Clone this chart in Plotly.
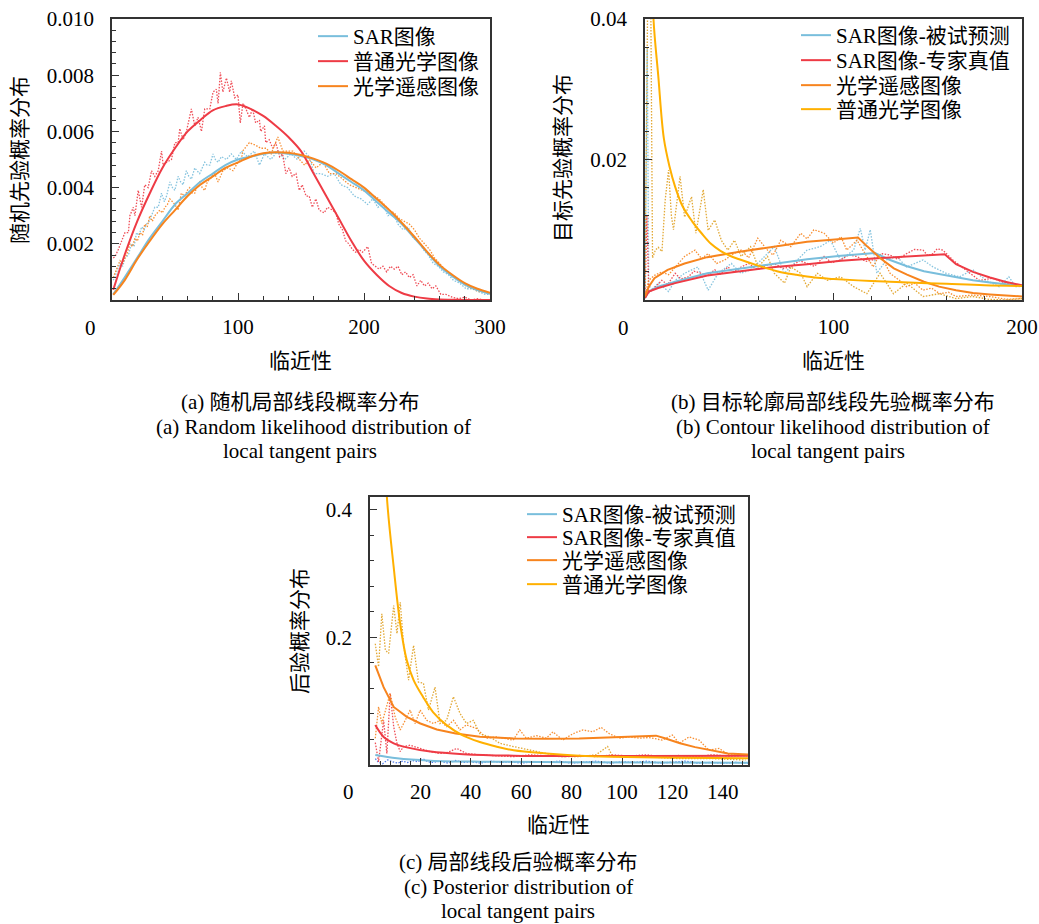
import plotly.graph_objects as go

# ---------------- colours ----------------
C_BLUE = "#79BEDC"
C_RED = "#EE3B45"
C_ORANGE = "#F7841E"
C_YELLOW = "#FFB000"
C_DBLUE = "#3F6FE8"
C_GOLD = "#E0A020"

FONT = "Liberation Serif, 'Noto Sans CJK SC', serif"

# ---------------- panel (a) data ----------------
xa_fit = [1, 10, 20, 30, 40, 50, 60, 70, 80, 90, 100, 110, 120, 130, 140, 150,
          160, 170, 180, 190, 200, 210, 220, 230, 240, 250, 260, 270, 280, 290, 300]
a_sar_fit = [0.0002, 0.0008, 0.0015, 0.0022, 0.0028, 0.0034, 0.0038, 0.0042, 0.0045, 0.0048,
             0.0050, 0.0051, 0.0052, 0.00525, 0.0052, 0.00512, 0.0050, 0.0048, 0.0045, 0.0042,
             0.0039, 0.0035, 0.0031, 0.0027, 0.0022, 0.0017, 0.0012, 0.00085, 0.00055, 0.00035, 0.00022]
a_opt_fit = [0.00036, 0.0016, 0.0028, 0.0038, 0.0047, 0.0054, 0.0060, 0.0064, 0.00675, 0.0069,
             0.00696, 0.0068, 0.00655, 0.0062, 0.0058, 0.0053, 0.0045, 0.0037, 0.0029, 0.0021,
             0.0014, 0.0009, 0.0005, 0.00025, 0.00012, 0.00005, 0.00002, 0.00001, 0.0, 0.0, 0.0]
a_rs_fit = [0.00018, 0.0007, 0.00145, 0.0021, 0.0027, 0.0032, 0.0037, 0.0041, 0.0044, 0.0047,
            0.0049, 0.0051, 0.00522, 0.00526, 0.00524, 0.00516, 0.00503, 0.00485, 0.0046, 0.0043,
            0.0040, 0.0036, 0.0032, 0.00275, 0.00225, 0.00172, 0.00125, 0.0009, 0.0006, 0.0004, 0.00026]

# raw (dotted) histograms of panel (a), as (proximity, probability) samples
a_opt_raw = [(1, 0.0015), (2.4, 0.00154), (5, 0.0018), (7.6, 0.0021), (10.3, 0.0024), (13, 0.0024),
             (14.2, 0.0030), (16.9, 0.0033), (18.2, 0.0030), (20.8, 0.0039), (23.5, 0.0033),
             (26, 0.0041), (28.7, 0.0040), (31.4, 0.0046), (34, 0.0044), (36.7, 0.0046),
             (39.3, 0.0053), (40.6, 0.0048), (43.3, 0.0049), (47.2, 0.0050), (49.9, 0.0056),
             (52.5, 0.0056), (53.8, 0.0061), (56.4, 0.0057), (59.1, 0.0060), (63, 0.0068),
             (65.7, 0.0062), (68.3, 0.0065), (71, 0.0060), (73.6, 0.0068), (77.6, 0.0068),
             (80.2, 0.0074), (82.8, 0.0075), (84.2, 0.0070), (86, 0.0081), (88, 0.0074),
             (90.8, 0.0079), (93.4, 0.0074), (94.7, 0.0078), (97.4, 0.0072), (100, 0.0073),
             (101.8, 0.0063), (104, 0.0070), (106.3, 0.0068), (109, 0.0065), (111.6, 0.0068),
             (114, 0.0063), (117, 0.0064), (118, 0.0060), (121, 0.0062), (122, 0.0056),
             (124.8, 0.0057), (127.5, 0.0054), (130, 0.0056), (133, 0.0051), (135.4, 0.0052),
             (138, 0.0045), (140.6, 0.0047), (143, 0.0044), (146, 0.0045), (148.6, 0.0039),
             (151, 0.0041), (154, 0.0037), (156.5, 0.0037), (159, 0.0033), (161.8, 0.0036),
             (164.4, 0.0032), (168.4, 0.0031), (171, 0.0033), (175, 0.0032), (177.6, 0.0031),
             (180, 0.0027), (182.9, 0.0025), (185.5, 0.0021), (188, 0.0020), (190.8, 0.0018),
             (193.4, 0.0017), (196, 0.0018), (198.7, 0.0017), (201, 0.0018), (203, 0.0019),
             (206, 0.0013), (209, 0.0012), (212, 0.0011), (215, 0.0012), (218, 0.0010),
             (221, 0.0012), (224, 0.0011), (227, 0.0012), (230, 0.0009), (233, 0.0010),
             (236, 0.0008), (239, 0.0009), (242, 0.0005), (245, 0.0007), (248, 0.0005),
             (251, 0.0006), (254, 0.0004), (257, 0.0005), (261, 0.0002), (265, 0.0002),
             (270, 0.0001), (275, 0.00005), (280, 0.0001), (285, 0.0), (290, 0.00005),
             (295, 0.0), (300, 0.0)]
a_sar_raw = [(1, 0.0007), (2.4, 0.00083), (4.5, 0.0011), (6.3, 0.0013), (8.5, 0.0012), (10.3, 0.0015),
             (13, 0.0016), (15.5, 0.0020), (17.5, 0.0019), (19.5, 0.0024), (21.5, 0.0023),
             (23.5, 0.0026), (25.5, 0.0025), (27.4, 0.0027), (29.5, 0.0028), (31.4, 0.0030),
             (34, 0.0033), (36.7, 0.0033), (39.3, 0.0038), (41.5, 0.0035), (43.3, 0.0037),
             (45.9, 0.0042), (48, 0.0040), (49.9, 0.0039), (52.5, 0.0044), (54.5, 0.0042),
             (56.4, 0.0041), (59, 0.0046), (61, 0.0044), (63, 0.0043), (65.7, 0.0047),
             (67.5, 0.0046), (69.6, 0.0045), (73.6, 0.0049), (75.5, 0.0048), (77.6, 0.0048),
             (80.2, 0.0052), (82, 0.0050), (84.2, 0.0049), (86.8, 0.0051), (90.8, 0.0050),
             (94.7, 0.0052), (98.7, 0.0050), (102.7, 0.0053), (107.7, 0.0051), (113, 0.0053),
             (117, 0.0048), (121, 0.0052), (126, 0.0050), (131.6, 0.0053), (136.9, 0.0050),
             (142, 0.0052), (147.2, 0.0050), (152.5, 0.0053), (156.5, 0.0051), (160.5, 0.0045),
             (165.8, 0.0045), (171, 0.0044), (176.4, 0.0045), (181.7, 0.0041), (187, 0.0040),
             (192.3, 0.0037), (197.6, 0.0036), (202.8, 0.0034), (207, 0.0036), (211, 0.0033),
             (215, 0.0034), (219, 0.0030), (223, 0.0031), (227, 0.0027), (231, 0.0025),
             (235, 0.0026), (239, 0.0022), (243, 0.0021), (247, 0.0018), (251, 0.0016),
             (255, 0.0013), (259, 0.0012), (263, 0.0010), (267, 0.0009), (271, 0.0007),
             (276, 0.0006), (281, 0.0004), (286, 0.0004), (291, 0.0003), (296, 0.0002),
             (300, 0.0002)]
a_rs_raw = [(1, 0.0008), (2.4, 0.00095), (4.5, 0.0012), (6.3, 0.0014), (8.5, 0.0013), (10.3, 0.0015),
            (12.3, 0.0017), (14.2, 0.0020), (16.2, 0.0019), (18.2, 0.0022), (20.2, 0.0021),
            (22.2, 0.0024), (24.2, 0.0023), (26, 0.0027), (28, 0.0026), (30, 0.0030), (32, 0.0028),
            (34, 0.0030), (36, 0.0031), (38, 0.0032), (40, 0.0031), (42, 0.0033), (44, 0.0034),
            (45.9, 0.0036), (47.9, 0.0035), (49.9, 0.0034), (52.5, 0.0032), (55, 0.0038),
            (57.8, 0.0037), (59.8, 0.0039), (61.7, 0.0040), (63.7, 0.0038), (65.7, 0.0038),
            (67.7, 0.0041), (69.6, 0.0042), (71.6, 0.0040), (73.6, 0.0039), (75.6, 0.0042),
            (77.6, 0.0043), (79.5, 0.0044), (81.5, 0.0045), (84.2, 0.0042), (86, 0.0044),
            (88, 0.0046), (92, 0.0047), (96, 0.0046), (100, 0.0049), (102.7, 0.0050),
            (103.7, 0.0053), (109, 0.0056), (114.3, 0.0055), (118, 0.0054), (122.4, 0.0054),
            (126.3, 0.0052), (131.6, 0.0058), (135.6, 0.0053), (139.5, 0.0053), (143.5, 0.0053),
            (148.8, 0.0050), (152.8, 0.0048), (156.7, 0.0050), (162, 0.0047), (167.3, 0.0049),
            (172.6, 0.0045), (177.8, 0.0045), (183, 0.0043), (188.4, 0.0041), (193.7, 0.0040),
            (199, 0.0039), (204.3, 0.0038), (208, 0.0037), (212, 0.0036), (216, 0.0034),
            (220, 0.0032), (224, 0.0031), (228, 0.0029), (232, 0.0028), (236, 0.0027),
            (240, 0.0025), (244, 0.0022), (248, 0.0020), (252, 0.0018), (256, 0.0015),
            (260, 0.0013), (264, 0.0011), (268, 0.0009), (272, 0.0008), (276, 0.0007),
            (281, 0.0005), (286, 0.0004), (291, 0.0003), (296, 0.0003), (300, 0.0002)]

# ---------------- panel (b) data ----------------
xb_sar_fit = [0, 2, 7, 16, 33, 51, 69, 86, 104, 122, 130, 139, 148, 156, 165, 174, 183, 200]
b_sar_fit = [0.0003, 0.0012, 0.0019, 0.0026, 0.0038, 0.0045, 0.0052, 0.0058, 0.0063, 0.0067,
             0.0057, 0.0048, 0.0041, 0.0037, 0.0032, 0.0028, 0.0025, 0.0020]
xb_exp_fit = [0, 2, 7, 16, 33, 51, 69, 86, 104, 121, 139, 159, 165, 174, 183, 191, 200]
b_exp_fit = [0.0003, 0.0012, 0.0017, 0.0024, 0.0035, 0.0041, 0.0047, 0.0051, 0.0056, 0.0059,
             0.0062, 0.0065, 0.0051, 0.0040, 0.0032, 0.0026, 0.0021]
xb_rs_fit = [0, 2, 5, 12, 21, 33, 51, 69, 86, 104, 113, 118, 125, 132, 139, 148, 156, 165, 174, 183, 200]
b_rs_fit = [0.0005, 0.0019, 0.0031, 0.0043, 0.0052, 0.0061, 0.0069, 0.0076, 0.0083, 0.0087,
            0.0089, 0.0076, 0.0059, 0.0045, 0.0036, 0.0026, 0.0019, 0.0014, 0.0010, 0.0008, 0.0005]
xb_opt_fit = [2, 3, 4.5, 7, 10, 13, 16, 20, 25, 30, 35, 40, 45, 50, 60, 70, 80, 90, 100,
              120, 140, 160, 180, 200]
b_opt_fit = [0.08, 0.055, 0.040, 0.032, 0.023, 0.019, 0.0161, 0.0133, 0.0112, 0.0095, 0.0080,
             0.0070, 0.0063, 0.0058, 0.0049, 0.0041, 0.0036, 0.0032, 0.0030, 0.0027, 0.0025,
             0.0023, 0.0021, 0.0020]

xb_sar_raw = [0, 1.2, 2, 4, 7.2, 10, 12.5, 16, 21, 28, 33.5, 38.8, 45.8, 51, 56, 61.6, 68.6, 73.9,
              80.9, 86, 93, 98.4, 103.7, 110.7, 114.2, 116.8, 119.5, 123, 128, 133.5, 138.8, 147.5,
              152.8, 159.8, 166.8, 173.9, 180.9, 187.9, 193, 196.7, 200]
b_sar_raw = [0.0005, 0.036, 0.002, 0.0016, 0.0024, 0.0018, 0.0012, 0.0028, 0.0038, 0.0047, 0.0014,
             0.0038, 0.0052, 0.0038, 0.0043, 0.0057, 0.0076, 0.0038, 0.0057, 0.0071, 0.0076, 0.0085,
             0.0057, 0.0071, 0.0102, 0.0071, 0.0100, 0.0038, 0.0057, 0.0062, 0.0047, 0.0057, 0.0047,
             0.0038, 0.0033, 0.0043, 0.0028, 0.0019, 0.0033, 0.0019, 0.0020]
xb_exp_raw = [0, 1, 2, 3.7, 6, 8.9, 12, 16, 19, 23, 26, 30, 33, 37, 40, 44, 47, 51, 55, 59.8, 64,
              68.6, 73, 77.4, 82, 86, 90, 95, 99, 103.7, 108, 112.5, 117, 121, 126, 130, 134,
              138.8, 143, 147.5, 150, 152.8, 155, 158, 163.3, 170, 177.4, 184.4, 191.4, 198.4, 200]
b_exp_raw = [0.0003, 0.012, 0.001, 0.0014, 0.0020, 0.0028, 0.0022, 0.0038, 0.0030, 0.0033, 0.0041,
             0.0038, 0.0034, 0.0043, 0.0037, 0.0047, 0.0040, 0.0047, 0.0052, 0.0043, 0.0049,
             0.0052, 0.0045, 0.0047, 0.0056, 0.0052, 0.0048, 0.0062, 0.0053, 0.0057, 0.0064,
             0.0062, 0.0055, 0.0057, 0.0066, 0.0064, 0.0058, 0.0066, 0.0072, 0.0071, 0.0063,
             0.0066, 0.0073, 0.0071, 0.0057, 0.0043, 0.0028, 0.0031, 0.0024, 0.0019, 0.0021]
xb_rs_raw = [0, 1.9, 5, 8.9, 12.5, 16, 21, 26.5, 30, 33.5, 38, 42.3, 47, 51, 55, 59.8, 65, 68,
             72, 77.4, 82.6, 86, 89.6, 95, 100, 104, 107, 112.5, 117.7, 121, 124.7, 130, 135,
             138.8, 143, 147.5, 152, 156.3, 161, 165, 174, 182.6, 191.4, 200]
b_rs_raw = [0.0005, 0.0028, 0.0035, 0.0040, 0.0036, 0.0047, 0.0062, 0.0071, 0.0059, 0.0066, 0.0052,
            0.0057, 0.0066, 0.0071, 0.0060, 0.0088, 0.0071, 0.0064, 0.0085, 0.0076, 0.0095, 0.0087,
            0.0100, 0.0095, 0.0081, 0.0090, 0.0071, 0.0085, 0.0062, 0.0047, 0.0066, 0.0038, 0.0028,
            0.0019, 0.0024, 0.0014, 0.0017, 0.0009, 0.0011, 0.0005, 0.0007, 0.0005, 0.0001, 0.0002]
xb_opt_raw = [0, 1.5, 3, 4, 5.5, 7, 9, 10.7, 12.5, 14, 15.1, 18.6, 21, 24.7, 27, 30.9, 33.5, 37,
              40.5, 44, 47.5, 51, 56, 60, 65, 68.6, 74, 77.4, 82.6, 86, 91.4, 96.7, 103.7, 110.7,
              117.7, 124.7, 131.8, 138.8, 147.5, 156.3, 165, 173.9, 182.6, 191.4, 200]
b_opt_raw = [0.002, 0.045, 0.045, 0.006, 0.0071, 0.0075, 0.0069, 0.0142, 0.0185, 0.0120, 0.0100,
             0.0176, 0.0118, 0.0147, 0.0095, 0.0157, 0.0099, 0.0114, 0.0085, 0.0071, 0.0085,
             0.0062, 0.0076, 0.0047, 0.0062, 0.0038, 0.0024, 0.0047, 0.0038, 0.0019, 0.0038,
             0.0028, 0.0033, 0.0019, 0.0009, 0.0038, 0.0009, 0.0024, 0.0005, 0.0009, 0.0002,
             0.0005, 0.0001, 0.0000, 0.0002]

# ---------------- panel (c) data ----------------
xc_sar_fit = [2.1, 10.7, 24, 43.6, 80, 150]
c_sar_fit = [0.0156, 0.0104, 0.0068, 0.0052, 0.0045, 0.0036]
xc_exp_fit = [2.1, 5.4, 9.4, 14.6, 24, 37, 57, 83, 109, 150]
c_exp_fit = [0.0625, 0.044, 0.034, 0.0276, 0.021, 0.017, 0.0146, 0.014, 0.014, 0.0146]
xc_rs_fit = [2.1, 5.4, 9.4, 14.6, 20, 26.5, 34, 43.6, 57, 70, 83, 96, 109.5, 113.5, 117, 123,
             129, 136, 142, 150]
c_rs_fit = [0.156, 0.122, 0.091, 0.0755, 0.065, 0.0557, 0.0495, 0.0443, 0.0417, 0.041, 0.0415,
            0.043, 0.045, 0.046, 0.042, 0.034, 0.028, 0.022, 0.018, 0.0165]
xc_opt_fit = [3, 5, 6.7, 9.4, 12, 14.6, 17.3, 21, 25, 30.4, 37, 43.6, 50, 57, 70, 83, 96, 123, 150]
c_opt_fit = [0.9, 0.58, 0.42, 0.31, 0.221, 0.164, 0.133, 0.107, 0.083, 0.0625, 0.046, 0.036,
             0.029, 0.023, 0.018, 0.0146, 0.013, 0.0115, 0.0104]

xc_sar_raw = [2.1, 3.4, 5, 7, 9, 11, 13, 15, 17, 19, 21, 23, 25, 28, 31, 34, 37, 40, 44, 48, 52,
              56, 60, 65, 70, 75, 80, 85, 90, 95, 100, 105, 110, 115, 120, 125, 130, 135, 140, 145, 150]
c_sar_raw = [0.010, 0.004, 0.002, 0.008, 0.005, 0.003, 0.006, 0.004, 0.007, 0.005, 0.010, 0.005,
             0.004, 0.006, 0.003, 0.007, 0.004, 0.005, 0.003, 0.006, 0.004, 0.005, 0.003, 0.005,
             0.004, 0.006, 0.003, 0.004, 0.006, 0.003, 0.005, 0.004, 0.006, 0.003, 0.004, 0.006,
             0.003, 0.004, 0.003, 0.004, 0.003]
xc_exp_raw = [2.1, 3.4, 5.4, 6.7, 8, 9.4, 10.7, 12, 13.3, 15.9, 19.9, 23.8, 27.8, 31, 34.4, 38.3,
              43.6, 50.2, 56.8, 63.4, 70, 76.5, 83.1, 89.7, 96.3, 102.9, 109.5, 116, 122.7, 129.2,
              135.8, 142.4, 150]
c_exp_raw = [0.035, 0.005, 0.070, 0.018, 0.112, 0.060, 0.034, 0.021, 0.029, 0.031, 0.026, 0.021,
             0.018, 0.020, 0.026, 0.018, 0.016, 0.015, 0.013, 0.016, 0.014, 0.013, 0.015, 0.013,
             0.016, 0.014, 0.016, 0.013, 0.015, 0.013, 0.016, 0.014, 0.015]
xc_rs_raw = [2.1, 3.4, 4.7, 6.7, 8, 10, 12, 14, 15.9, 17.9, 19.9, 22.5, 25.2, 27.8, 30.4, 33.1,
             35.7, 38.3, 42.3, 46.2, 50.2, 56.8, 59.4, 62, 66, 70, 72.6, 76.5, 80.5, 84.5, 88.4,
             91.7, 95, 98.9, 102.9, 106.9, 110.8, 116, 120, 122.7, 126.6, 130.6, 134.5, 138.5,
             142.4, 150]
c_rs_raw = [0.042, 0.091, 0.065, 0.096, 0.112, 0.075, 0.055, 0.070, 0.086, 0.065, 0.086, 0.070,
            0.065, 0.070, 0.060, 0.070, 0.055, 0.063, 0.057, 0.042, 0.044, 0.039, 0.055, 0.042,
            0.046, 0.042, 0.052, 0.039, 0.049, 0.055, 0.052, 0.059, 0.049, 0.042, 0.044, 0.042,
            0.043, 0.039, 0.047, 0.034, 0.044, 0.039, 0.023, 0.026, 0.016, 0.016]
xc_opt_raw = [2.1, 3.4, 4.7, 6.1, 7.4, 9.4, 10.7, 12, 13.3, 15.3, 17.3, 19.2, 21.2, 23.2, 25.8,
              27.8, 30.4, 33.1, 35.7, 38.3, 41, 43.6, 47.6, 51.5, 56.8, 63.4, 70, 76.5, 83.1, 89.7,
              94.3, 96.3, 109.5, 122.7, 135.8, 149]
c_opt_raw = [0.19, 0.154, 0.237, 0.180, 0.175, 0.250, 0.206, 0.255, 0.190, 0.133, 0.1875, 0.130,
             0.128, 0.086, 0.122, 0.065, 0.070, 0.107, 0.081, 0.065, 0.070, 0.049, 0.044, 0.034,
             0.029, 0.023, 0.018, 0.013, 0.013, 0.016, 0.029, 0.013, 0.013, 0.010, 0.010, 0.0078]

# ---------------- tick labels / texts ----------------
a_xticks = [100, 200, 300]
a_yticks = [0.002, 0.004, 0.006, 0.008, 0.010]
a_yticktext = ["0.002", "0.004", "0.006", "0.008", "0.010"]
b_xticks = [100, 200]
b_yticks = [0.02, 0.04]
b_yticktext = ["0.02", "0.04"]
c_xticks = [20, 40, 60, 80, 100, 120, 140]
c_yticks = [0.2, 0.4]
c_yticktext = ["0.2", "0.4"]

W, H = 1039, 924


def px(x, y):
    return x / W, 1 - y / H


fig = go.Figure()
legends = {}
leg_count = [0]


def raw(x, y, color, xa, ya, opacity=0.9):
    fig.add_trace(go.Scatter(x=x, y=y, mode="lines", xaxis=xa, yaxis=ya, showlegend=False,
                             line=dict(color=color, width=1.3, dash="1.5px,1.5px"),
                             opacity=opacity, hoverinfo="skip"))


def raw_pts(pts, color, xa, ya):
    raw([p[0] for p in pts], [p[1] for p in pts], color, xa, ya)


def fit(x, y, color, name, xa, ya, leg_x, leg_y, shape="linear"):
    # one legend per entry so each entry sits exactly where it is in the reference
    leg_count[0] += 1
    key = "legend" if leg_count[0] == 1 else "legend%d" % leg_count[0]
    legends[key] = dict(x=leg_x / W, y=1 - (leg_y - 21) / H, xanchor="left", yanchor="top",
                        bgcolor="rgba(0,0,0,0)", itemwidth=30,
                        font=dict(size=21, family=FONT, color="black"))
    fig.add_trace(go.Scatter(x=x, y=y, mode="lines", xaxis=xa, yaxis=ya, name=name,
                             legend=key, line=dict(color=color, width=2, shape=shape)))


# legend box left positions (px)
LA, LB, LC = 313, 796, 522

# panel a
raw_pts(a_sar_raw, C_BLUE, "x", "y")
raw_pts(a_opt_raw, C_RED, "x", "y")
raw_pts(a_rs_raw, C_ORANGE, "x", "y")
fit(xa_fit, a_sar_fit, C_BLUE, "SAR图像", "x", "y", LA, 37, "spline")
fit(xa_fit, a_opt_fit, C_RED, "普通光学图像", "x", "y", LA, 62, "spline")
fit(xa_fit, a_rs_fit, C_ORANGE, "光学遥感图像", "x", "y", LA, 87, "spline")

# panel b
raw(xb_sar_raw, b_sar_raw, C_BLUE, "x2", "y2")
raw(xb_exp_raw, b_exp_raw, C_RED, "x2", "y2")
raw(xb_rs_raw, b_rs_raw, C_ORANGE, "x2", "y2")
raw(xb_opt_raw, b_opt_raw, C_GOLD, "x2", "y2")
fit(xb_sar_fit, b_sar_fit, C_BLUE, "SAR图像-被试预测", "x2", "y2", LB, 36)
fit(xb_exp_fit, b_exp_fit, C_RED, "SAR图像-专家真值", "x2", "y2", LB, 61)
fit(xb_rs_fit, b_rs_fit, C_ORANGE, "光学遥感图像", "x2", "y2", LB, 86)
fit(xb_opt_fit, b_opt_fit, C_YELLOW, "普通光学图像", "x2", "y2", LB, 110, "spline")

# panel c
raw(xc_sar_raw, c_sar_raw, C_DBLUE, "x3", "y3")
raw(xc_exp_raw, c_exp_raw, C_RED, "x3", "y3")
raw(xc_rs_raw, c_rs_raw, C_ORANGE, "x3", "y3")
raw(xc_opt_raw, c_opt_raw, C_GOLD, "x3", "y3")
fit(xc_sar_fit, c_sar_fit, C_BLUE, "SAR图像-被试预测", "x3", "y3", LC, 515, "spline")
fit(xc_exp_fit, c_exp_fit, C_RED, "SAR图像-专家真值", "x3", "y3", LC, 538, "spline")
fit(xc_rs_fit, c_rs_fit, C_ORANGE, "光学遥感图像", "x3", "y3", LC, 561)
fit(xc_opt_fit, c_opt_fit, C_YELLOW, "普通光学图像", "x3", "y3", LC, 585, "spline")

AX = "#333333"


def axis(domain, rng, tickvals, ticktext, minor_dtick, anchor, standoff):
    return dict(domain=domain, range=rng, tickmode="array", tickvals=tickvals, ticktext=ticktext,
                ticks="inside", ticklen=7, tickwidth=1, tickcolor=AX,
                showline=True, linecolor=AX, linewidth=1.5, mirror=True,
                showgrid=False, zeroline=False, anchor=anchor, automargin=False,
                tickfont=dict(size=21, color="black", family=FONT),
                ticklabelstandoff=standoff,
                minor=dict(tickmode="linear", tick0=0, dtick=minor_dtick, ticks="inside",
                           ticklen=4, tickwidth=1, tickcolor=AX, showgrid=False))


xa_dom = [112 / W, 490 / W]
xb_dom = [645 / W, 1022 / W]
xc_dom = [370 / W, 748 / W]
yab_dom = [1 - 300 / H, 1 - 19 / H]
yc_dom = [1 - 765 / H, 1 - 497 / H]

fig.update_layout(
    width=W, height=H, autosize=False,
    margin=dict(l=0, r=0, t=0, b=0, autoexpand=False),
    paper_bgcolor="white", plot_bgcolor="white",
    font=dict(family=FONT, color="black"),
    xaxis=axis(xa_dom, [0, 300], a_xticks, [str(v) for v in a_xticks], 20, "y", 7),
    yaxis=axis(yab_dom, [0, 0.010], a_yticks, a_yticktext, 0.0004, "x", 12),
    xaxis2=axis(xb_dom, [0, 200], b_xticks, [str(v) for v in b_xticks], 20, "y2", 7),
    yaxis2=axis(yab_dom, [0, 0.04], b_yticks, b_yticktext, 0.004, "x2", 12),
    xaxis3=axis(xc_dom, [0, 150], c_xticks, [str(v) for v in c_xticks], 4, "y3", 7),
    yaxis3=axis(yc_dom, [0, 0.42], c_yticks, c_yticktext, 0.04, "x3", 12),
    showlegend=True,
    **legends,
)

annots = []


def text(x, y, s, size=21, angle=0):
    ax_, ay_ = px(x, y)
    annots.append(dict(x=ax_, y=ay_, xref="paper", yref="paper", text=s, showarrow=False,
                       xanchor="center", yanchor="middle", textangle=angle,
                       font=dict(size=size, family=FONT, color="black")))


# origin labels
text(90, 328, "0")
text(623, 328, "0")
text(348, 792, "0")
# axis titles
text(300, 361, "临近性")
text(833, 361, "临近性")
text(558, 825, "临近性")
text(20, 160, "随机先验概率分布", angle=-90)
text(563, 158, "目标先验概率分布", angle=-90)
text(300, 631, "后验概率分布", angle=-90)
# captions
text(300, 402, "(a) 随机局部线段概率分布")
text(313, 427, "(a) Random likelihood distribution of")
text(300, 451, "local tangent pairs")
text(833, 402, "(b) 目标轮廓局部线段先验概率分布")
text(833, 427, "(b) Contour likelihood distribution of")
text(828, 451, "local tangent pairs")
text(518, 862, "(c) 局部线段后验概率分布")
text(518, 887, "(c) Posterior distribution of")
text(518, 911, "local tangent pairs")

fig.update_layout(annotations=annots)

fig.write_html("out.html")
